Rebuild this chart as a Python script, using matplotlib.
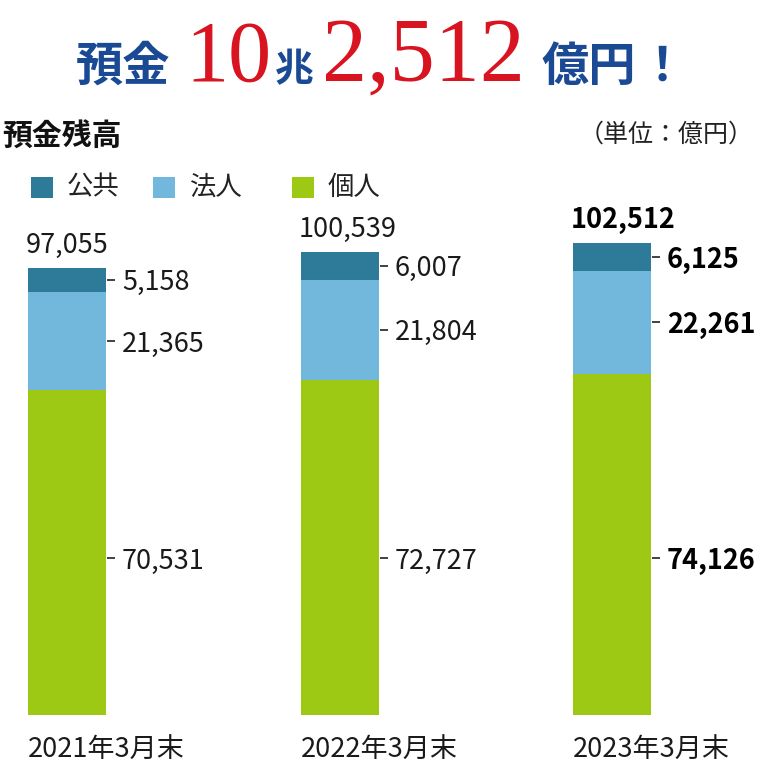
import matplotlib
matplotlib.use("Agg")
import matplotlib.pyplot as plt

plt.rcParams['font.family'] = ['Noto Sans CJK JP', 'DejaVu Sans']

# ---- data ----
categories = ["2021年3月末", "2022年3月末", "2023年3月末"]
series_names = ["公共", "法人", "個人"]
public_vals = [5158, 6007, 6125]
corporate_vals = [21365, 21804, 22261]
personal_vals = [70531, 72727, 74126]
totals = [97055, 100539, 102512]
highlight = [False, False, True]

colors = {"公共": "#2e7b99", "法人": "#72b8dd", "個人": "#9dc814"}

W, H = 760, 762
fig = plt.figure(figsize=(W / 100, H / 100), dpi=100)
ax = fig.add_axes([0, 0, 1, 1])
ax.set_axis_off()

# pixel-based layout
base_px = 715          # pixel row of value 0
scale = 4.606 / 1000   # px per unit
ax.set_xlim(0, W)
ax.set_ylim(-(H - base_px) / scale, base_px / scale)

bar_w = 78
first_center = 67
step = 272.5
personal_label_val = 34000

def fx(x):
    return x / W

def fy(y):
    return 1 - y / H

for i, cat in enumerate(categories):
    c = first_center + step * i
    p, co, pu = personal_vals[i], corporate_vals[i], public_vals[i]
    ax.bar(c, p, width=bar_w, bottom=0, color=colors["個人"], linewidth=0)
    ax.bar(c, co, width=bar_w, bottom=p, color=colors["法人"], linewidth=0)
    ax.bar(c, pu, width=bar_w, bottom=p + co, color=colors["公共"], linewidth=0)
    top = p + co + pu
    bold = highlight[i]
    weight = 'bold' if bold else 'normal'
    tcol = '#000000' if bold else '#1a1a1a'
    left = c - bar_w / 2
    # total label
    ax.text(left - 2, top + 15 / scale, f"{totals[i]:,}", ha='left', va='baseline',
            fontsize=19.5, fontweight=weight, color=tcol)
    right = c + bar_w / 2
    for val, ypos in [(pu, p + co + pu / 2), (co, p + co / 2), (p, personal_label_val)]:
        ax.plot([right + 1, right + 9], [ypos, ypos], color='#333333', lw=1.3,
                solid_capstyle='butt')
        ax.text(right + 16, ypos, f"{val:,}", ha='left', va='center_baseline',
                fontsize=19.5, fontweight=weight, color=tcol)
    # category label
    ax.text(left, -(750 - base_px) / scale, cat, ha='left', va='center',
            fontsize=19.5, color='#1a1a1a')

# ---- title ----
blue = '#1b4a94'
red = '#d7141f'
ty = fy(81)
fig.text(fx(76), ty, "預金", fontsize=34, fontweight='bold', color=blue,
         ha='left', va='baseline')
fig.text(fx(185), ty, "10", fontsize=62, color=red, family='Liberation Serif',
         ha='left', va='baseline')
fig.text(fx(275), ty, "兆", fontsize=28, fontweight='bold', color=blue,
         ha='left', va='baseline')
fig.text(fx(322), ty, "2,512", fontsize=65, color=red, family='Liberation Serif',
         ha='left', va='baseline')
fig.text(fx(541), ty, "億円", fontsize=34, fontweight='bold', color=blue,
         ha='left', va='baseline')
fig.text(fx(639), ty, "！", fontsize=34, fontweight='bold', color=blue,
         ha='left', va='baseline')

# ---- subtitle and unit ----
fig.text(fx(2), fy(137), "預金残高", fontsize=21.5, fontweight='bold', color='#111111',
         ha='left', va='center')
fig.text(fx(754), fy(135), "（単位：億円）", fontsize=18, color='#222222',
         ha='right', va='center')

# ---- legend ----
leg_sq_x = [31, 153, 292]
leg_txt_x = [67, 190, 328]
for name, sx, tx in zip(series_names, leg_sq_x, leg_txt_x):
    fig.patches.append(plt.Rectangle((fx(sx), fy(198)), 22 / W, 21 / H,
                                     transform=fig.transFigure, color=colors[name],
                                     linewidth=0))
    fig.text(fx(tx), fy(187), name, fontsize=19, color='#222222', ha='left',
             va='center')

fig.savefig("out.png", dpi=100)
